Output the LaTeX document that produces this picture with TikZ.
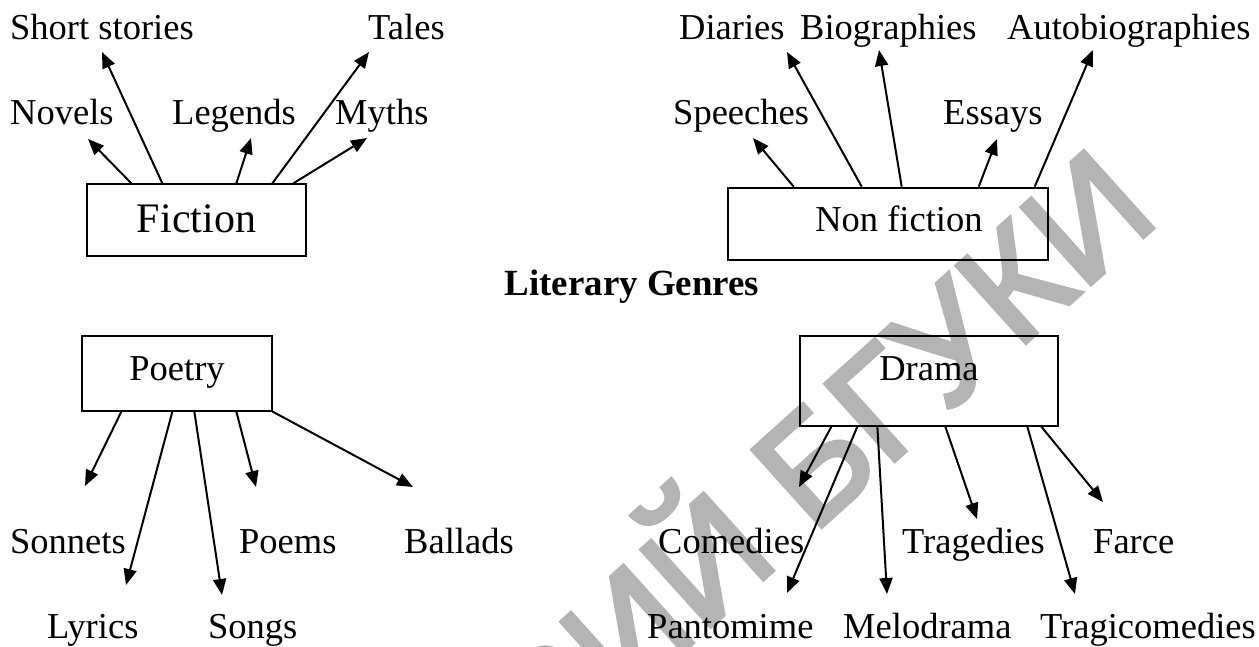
\documentclass[tikz,border=0pt]{standalone}
\usepackage{fontspec}
\setmainfont{Liberation Serif}
\newfontfamily\wmfont[FakeBold=3]{Liberation Sans}
\usetikzlibrary{arrows.meta}
\definecolor{wmgray}{RGB}{180,180,180}
\begin{document}
\begin{tikzpicture}[x=1pt,y=-1pt,
  lbl/.style={anchor=base west, inner sep=0pt, font=\fontsize{36.5}{40}\selectfont},
  genbox/.style={draw, line width=1.3pt, inner sep=0pt, font=\fontsize{36.5}{40}\selectfont},
  arr/.style={line width=2pt, -{Triangle[length=16pt,width=13pt]}},
  wm/.style={text=wmgray, inner sep=0pt, font=\wmfont\fontsize{150}{150}\selectfont}
]
% page
\fill[white] (0,0) rectangle (1259,647);
\useasboundingbox (0,0) rectangle (1259,647);
% watermark
\begin{scope}
\clip (0,0) rectangle (1259,647);
\node[wm, rotate=42, anchor=base east] (wmk) at (1162,220) {РЕПОЗИТОРИЙ БГУКИ};
\end{scope}

% ---------- boxes ----------
\node[genbox, minimum width=219pt, minimum height=72pt,
      font=\fontsize{42}{46}\selectfont, text height=30pt, text depth=4pt] (fic) at (196.5,220) {Fiction};
\node[genbox, line width=2.6pt, minimum width=320pt, minimum height=72pt,
      text height=26pt, text depth=10pt] (nf) at (888,224) {\hspace*{22pt}Non fiction};
\node[genbox, minimum width=190pt, minimum height=75pt,
      text height=26pt, text depth=13pt] (poe) at (177,373.5) {Poetry};
\node[genbox, minimum width=258pt, minimum height=90pt,
      text height=26pt, text depth=28pt] (dra) at (929,381) {Drama};

\node[anchor=base, inner sep=0pt, font=\bfseries\fontsize{36.9}{40}\selectfont] (title) at (632,295) {Literary Genres};

% ---------- labels ----------
\node[lbl] (shs) at (10,40) {Short stories};
\node[lbl] (tal) at (368,40) {Tales};
\node[lbl] (nov) at (10,125) {Novels};
\node[lbl] (leg) at (172,125) {Legends};
\node[lbl] (myt) at (335,125) {Myths};

\node[lbl] (dia) at (679,40) {Diaries};
\node[lbl] (bio) at (800,40) {Biographies};
\node[lbl] (aut) at (1007,40) {Autobiographies};
\node[lbl] (spe) at (673,125) {Speeches};
\node[lbl] (ess) at (943,125) {Essays};

\node[lbl] (son) at (10,553) {Sonnets};
\node[lbl] (poem) at (239,553) {Poems};
\node[lbl] (bal) at (404,553) {Ballads};
\node[lbl] (lyr) at (47,638) {Lyrics};
\node[lbl] (sng) at (208,638) {Songs};

\node[lbl] (com) at (658,553) {Comedies};
\node[lbl] (tra) at (902,553) {Tragedies};
\node[lbl] (far) at (1093,553) {Farce};
\node[lbl] (pan) at (647,638) {Pantomime};
\node[lbl] (mel) at (843,638) {Melodrama};
\node[lbl] (trc) at (1040,638) {Tragicomedies};

% ---------- arrow tips ----------
\coordinate (tNov) at (88,139);
\coordinate (tShs) at (102,52);
\coordinate (tLeg) at (251,138);
\coordinate (tTal) at (369,52);
\coordinate (tMyt) at (367,138);

\coordinate (tSpe) at (753,138);
\coordinate (tDia) at (787,52);
\coordinate (tBio) at (879,50);
\coordinate (tEss) at (997,139);
\coordinate (tAut) at (1093,50);

\coordinate (tSon) at (85,486);
\coordinate (tLyr) at (126,585);
\coordinate (tSng) at (222,595);
\coordinate (tPoe) at (256,487);
\coordinate (tBal) at (413,487);

\coordinate (tCom) at (799,487);
\coordinate (tPan) at (787,593);
\coordinate (tMel) at (887,594);
\coordinate (tTra) at (977,519);
\coordinate (tTrc) at (1075,594);
\coordinate (tFar) at (1103,502);

% ---------- arrows ----------
\draw[arr] ([xshift=45pt]fic.north west) -- (tNov);
\draw[arr] ([xshift=76pt]fic.north west) -- (tShs);
\draw[arr] ([xshift=150pt]fic.north west) -- (tLeg);
\draw[arr] ([xshift=186pt]fic.north west) -- (tTal);
\draw[arr] ([xshift=207pt]fic.north west) -- (tMyt);

\draw[arr] ([xshift=67pt]nf.north west) -- (tSpe);
\draw[arr] ([xshift=135pt]nf.north west) -- (tDia);
\draw[arr] ([xshift=175pt]nf.north west) -- (tBio);
\draw[arr] ([xshift=252pt]nf.north west) -- (tEss);
\draw[arr] ([xshift=308pt]nf.north west) -- (tAut);

\draw[arr] ([xshift=40pt]poe.south west) -- (tSon);
\draw[arr] ([xshift=91pt]poe.south west) -- (tLyr);
\draw[arr] ([xshift=113pt]poe.south west) -- (tSng);
\draw[arr] ([xshift=155pt]poe.south west) -- (tPoe);
\draw[arr] (poe.south east) -- (tBal);

\draw[arr] ([xshift=32pt]dra.south west) -- (tCom);
\draw[arr] ([xshift=58pt]dra.south west) -- (tPan);
\draw[arr] ([xshift=78pt]dra.south west) -- (tMel);
\draw[arr] ([xshift=146pt]dra.south west) -- (tTra);
\draw[arr] ([xshift=228pt]dra.south west) -- (tTrc);
\draw[arr] ([xshift=242pt]dra.south west) -- (tFar);
\end{tikzpicture}
\end{document}
